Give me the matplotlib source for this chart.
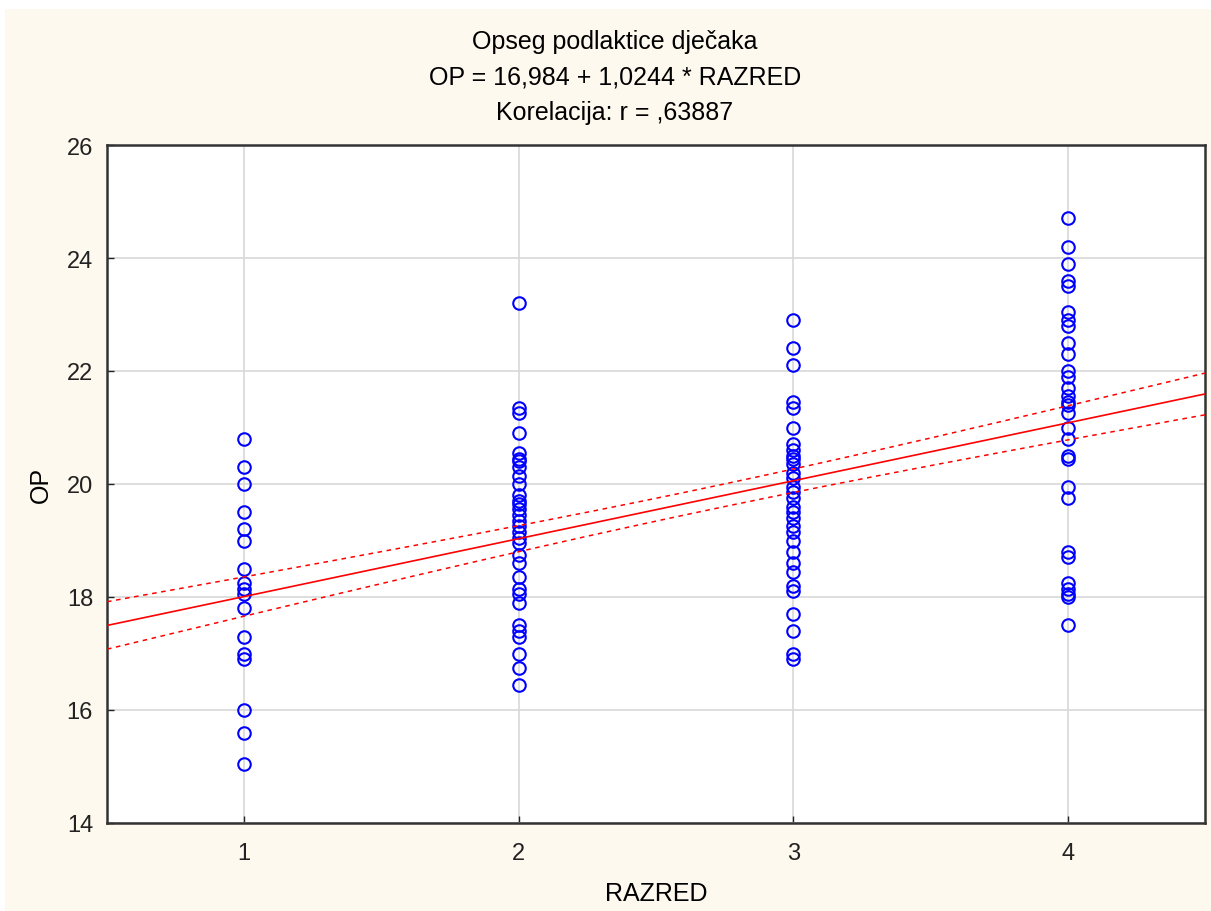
import numpy as np
import matplotlib
matplotlib.use("Agg")
import matplotlib.pyplot as plt
from matplotlib.patches import Rectangle

plt.rcParams['font.family'] = ['Liberation Sans Narrow', 'Liberation Sans', 'DejaVu Sans']

# OP values per RAZRED
razred_1 = [20.8, 20.3, 20.0, 19.5, 19.2, 19.0, 18.5, 18.25, 18.15, 18.05, 17.8,
            17.3, 17.0, 16.9, 16.0, 15.6, 15.05]
razred_2 = [23.2, 21.35, 21.25, 20.9, 20.55, 20.45, 20.4, 20.3, 20.15, 20.0, 19.8,
            19.7, 19.65, 19.55, 19.45, 19.35, 19.25, 19.15, 19.05, 18.95, 18.75,
            18.6, 18.35, 18.15, 18.05, 17.9, 17.5, 17.4, 17.3, 17.0, 16.75, 16.45]
razred_3 = [22.9, 22.4, 22.1, 21.45, 21.35, 21.0, 20.7, 20.6, 20.5, 20.45, 20.35,
            20.2, 20.1, 19.95, 19.85, 19.75, 19.6, 19.5, 19.4, 19.25, 19.15, 19.0,
            18.8, 18.6, 18.45, 18.2, 18.1, 17.7, 17.4, 17.0, 16.9]
razred_4 = [24.7, 24.2, 23.9, 23.6, 23.5, 23.05, 22.9, 22.8, 22.5, 22.3, 22.0, 21.9,
            21.7, 21.55, 21.45, 21.4, 21.25, 21.0, 20.8, 20.5, 20.45, 19.95, 19.75,
            18.8, 18.7, 18.25, 18.15, 18.05, 18.0, 17.5]
groups = [razred_1, razred_2, razred_3, razred_4]

# regression from the title
intercept = 16.984
slope = 1.0244

band_centre = 0.20   # narrowest, near the mean of RAZRED
band_left = 0.42     # at RAZRED = 0.5

x = np.concatenate([[i + 1] * len(g) for i, g in enumerate(groups)]).astype(float)
y = np.concatenate(groups)
xbar = x.mean()

xs = np.linspace(0.5, 4.5, 200)
fit = intercept + slope * xs
k = (band_left**2 - band_centre**2) / (0.5 - xbar)**2
half = np.sqrt(band_centre**2 + k * (xs - xbar)**2)

fig = plt.figure(figsize=(12.11, 9.12), dpi=100, facecolor='white')
fig.patches.append(Rectangle((5 / 1211, 0), 1, 1 - 10 / 912, transform=fig.transFigure,
                             facecolor='#fef9ee', edgecolor='none', zorder=-10))

ax = fig.add_axes([107 / 1211, 1 - 824 / 912, (1205 - 107) / 1211, (824 - 146) / 912])
ax.set_facecolor('white')

ax.plot(x, y, linestyle='none', marker='o', ms=9, mfc='none', mec='#0000ff', mew=1.5, zorder=3)
ax.plot(xs, fit, color='red', linewidth=1.2, zorder=4)
ax.plot(xs, fit + half, color='red', linewidth=1.1, linestyle=(0, (3, 3)), zorder=4)
ax.plot(xs, fit - half, color='red', linewidth=1.1, linestyle=(0, (3, 3)), zorder=4)

ax.set_xlim(0.5, 4.5)
ax.set_ylim(14, 26)
ax.set_xticks([1, 2, 3, 4])
ax.set_yticks([14, 16, 18, 20, 22, 24, 26])
ax.grid(True, color='#d8d8d8', linewidth=1.2)
ax.set_axisbelow(True)
ax.tick_params(direction='in', length=5, width=1, labelsize=17, colors='#222222')
ax.tick_params(axis='x', pad=14)
ax.tick_params(axis='y', pad=10)
for sp in ax.spines.values():
    sp.set_linewidth(1.8)
    sp.set_color('#333333')

ax.set_xlabel('RAZRED', fontsize=18, labelpad=12)
ax.set_ylabel('OP', fontsize=18, labelpad=10)

fig.text(615 / 1211, 1 - 42 / 912, 'Opseg podlaktice dječaka', ha='center', va='center', fontsize=18)
fig.text(615 / 1211, 1 - 77 / 912, 'OP = 16,984 + 1,0244 * RAZRED', ha='center', va='center', fontsize=18)
fig.text(615 / 1211, 1 - 113 / 912, 'Korelacija: r = ,63887', ha='center', va='center', fontsize=18)

fig.savefig('out.png', dpi=100, facecolor=fig.get_facecolor())
